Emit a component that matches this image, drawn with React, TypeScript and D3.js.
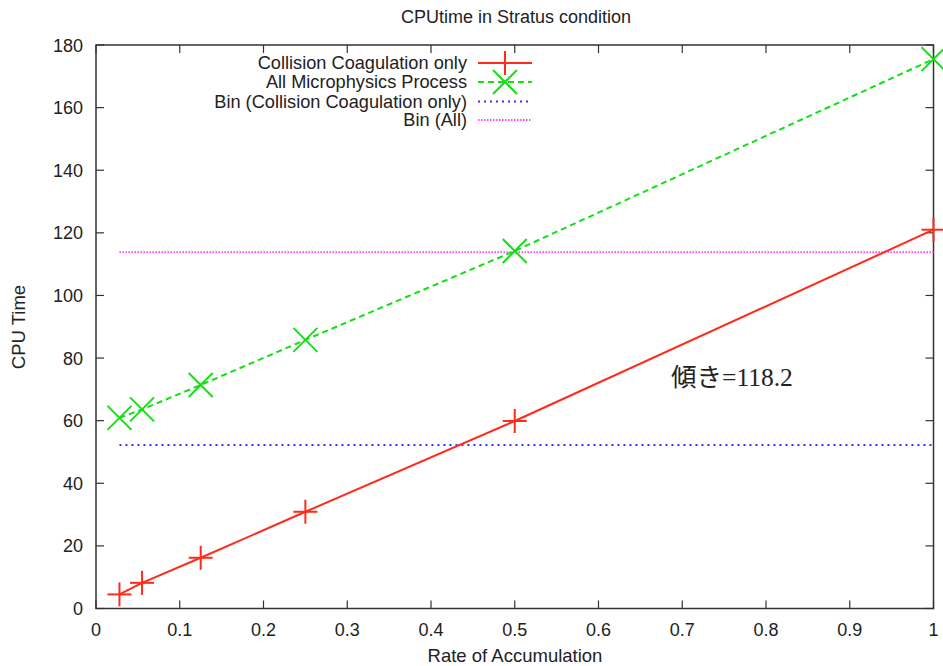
import React from "react";
import * as d3 from "d3";

const xCollision = [0.028, 0.055, 0.125, 0.25, 0.5, 1.0];
const yCollision = [4.5, 8.2, 16.2, 30.9, 59.9, 121.0];
const xAll = [0.028, 0.055, 0.125, 0.25, 0.5, 1.0];
const yAll = [60.9, 63.6, 71.4, 85.8, 114.2, 175.5];
const binCollision = 52.2;
const binAll = 113.8;
const binXStart = 0.028;
const xTicks = [0, 0.1, 0.2, 0.3, 0.4, 0.5, 0.6, 0.7, 0.8, 0.9, 1];
const yTicks = [0, 20, 40, 60, 80, 100, 120, 140, 160, 180];
const legendLabels = [
  "Collision Coagulation only",
  "All Microphysics Process",
  "Bin (Collision Coagulation only)",
  "Bin (All)",
];
const title = "CPUtime in Stratus condition";
const xLabel = "Rate of Accumulation";
const yLabel = "CPU Time";
const annotation = "傾き=118.2";

const W = 943, H = 666;
const L = 96, R = 933.5, T = 45, B = 608.5;
const RED = "#ff2a1a", GREEN = "#11e011", BLUE = "#3333ff", MAG = "#ff44ff";
const AX = "#333";
const SANS = "'Liberation Sans', Arial, Helvetica, sans-serif";

export default function App() {
  const x = d3.scaleLinear().domain([0, 1]).range([L, R]);
  const y = d3.scaleLinear().domain([0, 180]).range([B, T]);
  const line = d3.line<[number, number]>().x(d => x(d[0])).y(d => y(d[1]));
  const redPts: [number, number][] = xCollision.map((v, i) => [v, yCollision[i]]);
  const greenPts: [number, number][] = xAll.map((v, i) => [v, yAll[i]]);
  const ms = 12;
  const plus = (cx: number, cy: number, k: string) => (
    <g key={k} stroke={RED} strokeWidth={2}>
      <line x1={cx - ms} x2={cx + ms} y1={cy} y2={cy} />
      <line x1={cx} x2={cx} y1={cy - ms} y2={cy + ms} />
    </g>
  );
  const cross = (cx: number, cy: number, k: string) => (
    <g key={k} stroke={GREEN} strokeWidth={2}>
      <line x1={cx - ms} x2={cx + ms} y1={cy - ms} y2={cy + ms} />
      <line x1={cx - ms} x2={cx + ms} y1={cy + ms} y2={cy - ms} />
    </g>
  );
  const legY = [63, 82, 101.5, 120];
  const lx0 = 478, lx1 = 532, ltx = 467;
  return (
    <svg width={W} height={H} style={{ position: "absolute", left: 0, top: 0, background: "#fff" }} fontFamily={SANS}>
      <rect x={0} y={0} width={W} height={H} fill="#fff" />
      <text x={516} y={23} fontSize={18} textAnchor="middle" fill="#222">{title}</text>
      {/* ticks */}
      {xTicks.map((t, i) => (
        <g key={"xt" + i}>
          <line x1={x(t)} x2={x(t)} y1={B} y2={B - 8} stroke={AX} strokeWidth={1.2} />
          <line x1={x(t)} x2={x(t)} y1={T} y2={T + 8} stroke={AX} strokeWidth={1.2} />
          <text x={x(t)} y={B + 27} fontSize={18} textAnchor="middle" fill="#222">{t}</text>
        </g>
      ))}
      {yTicks.map((t, i) => (
        <g key={"yt" + i}>
          <line x1={L} x2={L + 8} y1={y(t)} y2={y(t)} stroke={AX} strokeWidth={1.2} />
          <line x1={R} x2={R - 8} y1={y(t)} y2={y(t)} stroke={AX} strokeWidth={1.2} />
          <text x={L - 13} y={y(t) + 6.5} fontSize={18} textAnchor="end" fill="#222">{t}</text>
        </g>
      ))}
      <rect x={L} y={T} width={R - L} height={B - T} fill="none" stroke={AX} strokeWidth={1.5} />
      <text x={515} y={662} fontSize={18.5} textAnchor="middle" fill="#222">{xLabel}</text>
      <text transform={`translate(25, 327) rotate(-90)`} fontSize={18.5} textAnchor="middle" fill="#222">{yLabel}</text>
      {/* bins */}
      <line x1={x(binXStart)} x2={R} y1={y(binCollision)} y2={y(binCollision)} stroke={BLUE} strokeWidth={2} strokeDasharray="2,4" />
      <line x1={x(binXStart)} x2={R} y1={y(binAll)} y2={y(binAll)} stroke={MAG} strokeWidth={2} strokeDasharray="1.5,1.5" />
      {/* series */}
      <path d={line(redPts) || ""} fill="none" stroke={RED} strokeWidth={2} />
      <path d={line(greenPts) || ""} fill="none" stroke={GREEN} strokeWidth={2} strokeDasharray="6,4" />
      {redPts.map((p, i) => plus(x(p[0]), y(p[1]), "r" + i))}
      {greenPts.map((p, i) => cross(x(p[0]), y(p[1]), "g" + i))}
      {/* legend */}
      {legendLabels.map((s, i) => (
        <text key={"lg" + i} x={ltx} y={legY[i] + 6} fontSize={18.2} textAnchor="end" fill="#222">{s}</text>
      ))}
      <line x1={lx0} x2={lx1} y1={legY[0]} y2={legY[0]} stroke={RED} strokeWidth={2} />
      {plus((lx0 + lx1) / 2, legY[0], "lp")}
      <line x1={lx0} x2={lx1} y1={legY[1]} y2={legY[1]} stroke={GREEN} strokeWidth={2} strokeDasharray="6,4" />
      {cross((lx0 + lx1) / 2, legY[1], "lc")}
      <line x1={lx0} x2={lx1} y1={legY[2]} y2={legY[2]} stroke={BLUE} strokeWidth={2} strokeDasharray="2,4" />
      <line x1={lx0} x2={lx1} y1={legY[3]} y2={legY[3]} stroke={MAG} strokeWidth={2} strokeDasharray="1.5,1.5" />
      <text x={671} y={386} fontSize={25.5} fill="#222" fontFamily="'Liberation Serif', 'Noto Sans CJK JP', serif">{annotation}</text>
    </svg>
  );
}
